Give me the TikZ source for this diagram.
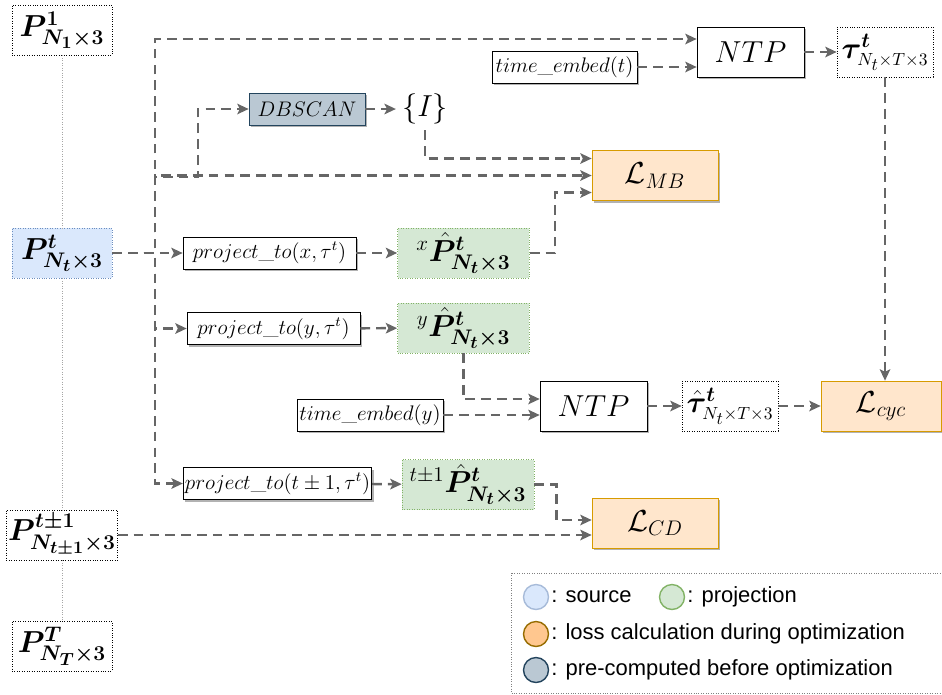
\documentclass[tikz,border=0pt]{standalone}
\usepackage{amsmath,bm}
\usepackage{fontspec}
\newfontfamily\legendfont{Liberation Sans}
\usetikzlibrary{arrows.meta,calc,shadows}
\definecolor{srcfill}{HTML}{DAE8FC}
\definecolor{srcdraw}{HTML}{6C8EBF}
\definecolor{projfill}{HTML}{D5E8D4}
\definecolor{projdraw}{HTML}{82B366}
\definecolor{lossfill}{HTML}{FFE6CC}
\definecolor{lossdraw}{HTML}{D79B00}
\definecolor{prefill}{HTML}{BAC8D3}
\definecolor{predraw}{HTML}{23445D}
\definecolor{flowgray}{HTML}{666666}
\begin{document}
\begin{tikzpicture}[x=0.02cm,y=-0.02cm,
  boxshadow/.style={drop shadow={shadow xshift=1.2pt,shadow yshift=-1.2pt,opacity=0.3,fill=black}},
  ptbox/.style={draw,densely dotted,minimum width=2cm,minimum height=1cm,inner sep=1pt,font=\LARGE},
  src/.style={ptbox,draw=srcdraw,fill=srcfill},
  proj/.style={draw=projdraw,fill=projfill,densely dotted,minimum width=2.64cm,minimum height=1cm,inner sep=1pt,font=\LARGE},
  fn/.style={draw,fill=white,boxshadow,minimum height=0.64cm,inner sep=1pt,font=\large},
  net/.style={draw,fill=white,boxshadow,minimum width=2.14cm,minimum height=1cm,font=\fontsize{18.5}{22}\selectfont},
  loss/.style={draw=lossdraw,fill=lossfill,boxshadow,minimum height=1cm,font=\LARGE},
  pre/.style={draw=predraw,fill=prefill,boxshadow,minimum width=2.32cm,minimum height=0.64cm,font=\large},
  flow/.style={draw=flowgray,line width=1.4pt,dash pattern=on 5.5pt off 3.5pt,-{Stealth[length=6.5pt,width=6pt,inset=1.5pt]}},
  link/.style={draw=gray!70,densely dotted,thin},
  dot/.style={circle,minimum size=0.5cm,line width=0.8pt,anchor=center}]
\useasboundingbox (0,0) rectangle (942,694);

\node[ptbox] (p1) at (62,30) {$\bm{P^{1}_{N_1\times 3}}$};
\node[src] (pt) at (62,253) {$\bm{P^{t}_{N_t\times 3}}$};
\node[ptbox] (ptpm) at (62,535) {$\bm{P^{t\pm1}_{N_{t\pm1}\times 3}}$};
\node[ptbox] (pT) at (62,646) {$\bm{P^{T}_{N_T\times 3}}$};
\draw[link] (p1) -- (pt);
\draw[link] (pt) -- (ptpm);
\draw[link] (ptpm) -- (pT);

\node[net] (ntpa) at (750.5,52) {$NTP$};
\node[ptbox,minimum width=1.92cm] (tau) at (885,52) {$\bm{\tau}^{\bm t}_{\scriptscriptstyle N_t\times T\times 3}$};
\node[fn,minimum width=2.9cm] (tet) at (564.5,67) {$time\_embed(t)$};
\node[pre] (dbscan) at (307,109) {$DBSCAN$};
\node[font=\LARGE] (idx) at (425,109) {$\{I\}$};
\node[loss,minimum width=2.52cm] (lmb) at (655,175.5) {$\mathcal{L}_{MB}$};

\node[fn,minimum width=3.46cm] (projx) at (269.5,253) {$project\_to(x,\tau^t)$};
\node[proj] (xp) at (463.5,253) {${}^{x}\bm{\hat{P}^{t}_{N_t\times 3}}$};
\node[fn,minimum width=3.46cm] (projy) at (273.5,328.5) {$project\_to(y,\tau^t)$};
\node[proj] (yp) at (463.5,328) {${}^{y}\bm{\hat{P}^{t}_{N_t\times 3}}$};
\node[fn,minimum width=2.92cm] (tey) at (370,415) {$time\_embed(y)$};
\node[net] (ntpb) at (593.5,406) {$NTP$};
\node[ptbox,minimum width=1.92cm] (tauh) at (730,406) {$\hat{\bm{\tau}}^{\bm t}_{\scriptscriptstyle N_t\times T\times 3}$};
\node[loss,minimum width=2.4cm] (lcyc) at (881,406) {$\mathcal{L}_{cyc}$};
\node[fn,minimum width=3.66cm] (projt) at (277.5,483.5) {$project\_to(t\pm1,\tau^t)$};
\node[proj] (tp) at (468,484.5) {${}^{t\pm1}\bm{\hat{P}^{t}_{N_t\times 3}}$};
\node[loss,minimum width=2.52cm] (lcd) at (655,523) {$\mathcal{L}_{CD}$};

\coordinate (trunk) at (155,253);
\coordinate (dbj) at (198,177);
\draw[flow] (pt.east) -- (trunk) |- ($(ntpa.west)+(0,-13)$);
\draw[flow] (pt.east) -- (trunk) |- (lmb.west);
\draw[flow] (pt.east) -- (trunk) |- (dbj) |- (dbscan.west);
\draw[flow] (dbscan) -- (idx);
\draw[flow] (idx.south) |- ($(lmb.west)+(0,-17)$);
\draw[flow] (xp.east) -- ++(25,0) |- ($(lmb.west)+(0,17)$);
\draw[flow] (tet.east) -- (tet.east -| ntpa.west);
\draw[flow] (ntpa) -- (tau);
\draw[flow] (tau.south) -- (tau.south |- lcyc.north);
\draw[flow] (pt.east) -- (projx.west);
\draw[flow] (projx) -- (xp);
\draw[flow] (pt.east) -- (trunk) |- (projy.west);
\draw[flow] (projy) -- (yp);
\draw[flow] (yp.south) |- ($(ntpb.west)+(0,-7)$);
\draw[flow] (tey.east) -- (tey.east -| ntpb.west);
\draw[flow] (ntpb) -- (tauh);
\draw[flow] (tauh) -- (lcyc);
\draw[flow] (pt.east) -- (trunk) |- (projt.west);
\draw[flow] (projt) -- (tp);
\draw[flow] (tp.east) -- ++(22,0) |- ($(lcd.west)+(0,-3)$);
\draw[flow] (ptpm.east) -- (ptpm.east -| lcd.west);

\draw[gray,densely dotted] (511,573) rectangle (960,693);
\begin{scope}[every node/.style={font=\legendfont\fontsize{12.5}{15}\selectfont,anchor=west,inner sep=0pt}]
\node[dot,draw=srcdraw!60,fill=srcfill] (dsrc) at (536,597) {};
\node (tsrc) at (551,597) {: source};
\node[dot,draw=projdraw,fill=projfill] (dproj) at (672,597) {};
\node (tproj) at (687,597) {: projection};
\node[dot,draw=lossdraw!70!black,fill=lossfill!70!orange] (dloss) at (536,634) {};
\node (tloss) at (551,634) {: loss calculation during optimization};
\node[dot,draw=predraw,fill=prefill] (dpre) at (536,670) {};
\node (tpre) at (551,670) {: pre-computed before optimization};
\end{scope}
\end{tikzpicture}
\end{document}
